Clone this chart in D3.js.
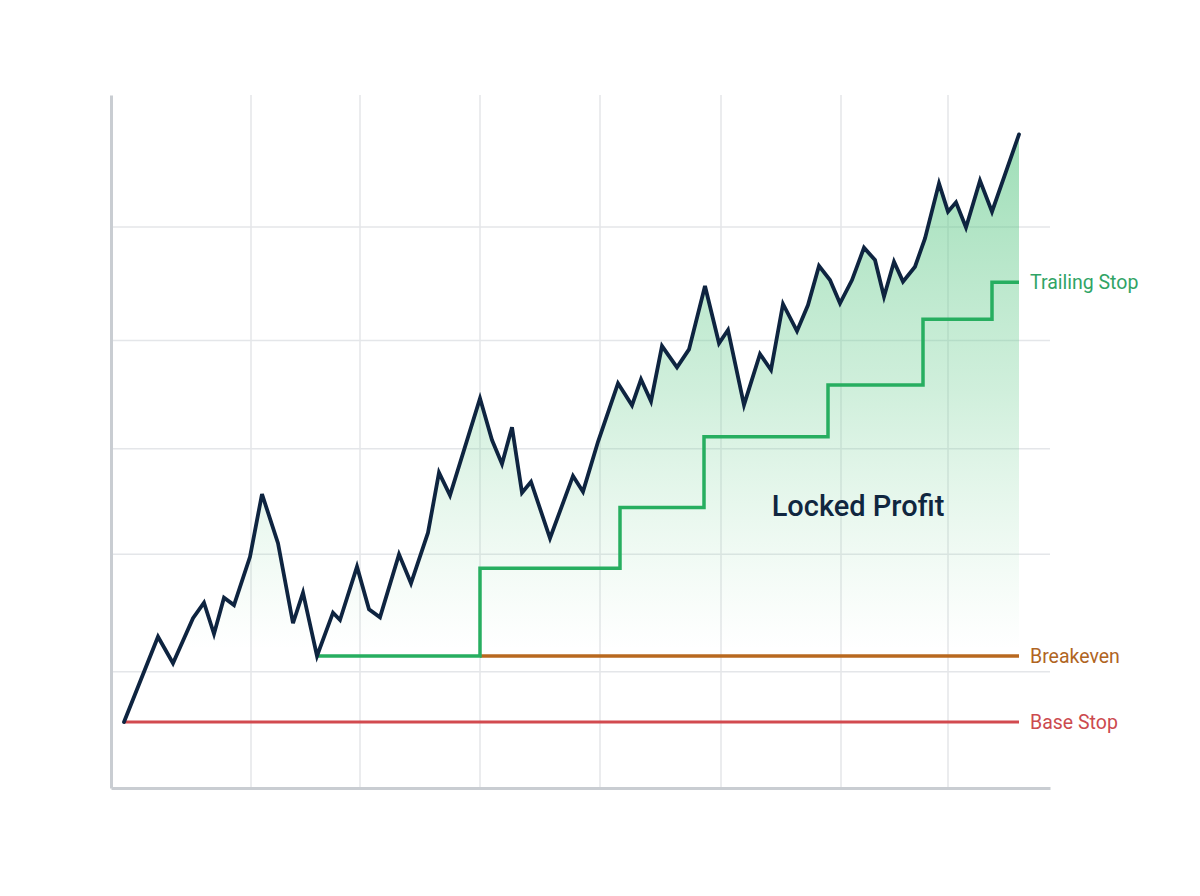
<!DOCTYPE html>
<html>
<head>
<meta charset="utf-8">
<script src="https://cdn.jsdelivr.net/npm/d3@7"></script>
<style>
  html, body { margin: 0; padding: 0; background: #ffffff; }
  svg { display: block; font-family: Roboto, "Noto Sans", sans-serif; }
</style>
</head>
<body>
<svg id="chart" width="1200" height="896"></svg>
<script>
// ---- Data ----
const priceT = [1.3, 4.7, 6.2, 8.2, 9.3, 10.3, 11.3, 12.3, 13.9, 15.1, 16.7, 18.2, 19.2, 20.6,
  22.2, 22.9, 24.6, 25.8, 26.9, 28.8, 30.0, 31.7, 32.8, 33.9, 36.9, 38.1, 39.1, 40.1, 41.1, 42.0,
  43.9, 46.2, 47.2, 48.7, 50.7, 52.1, 53.0, 54.0, 55.1, 56.6, 57.8, 59.4, 60.8, 61.7, 63.3, 64.9,
  66.0, 67.2, 68.6, 69.7, 70.8, 71.9, 72.9, 74.1, 75.3, 76.4, 77.3, 78.3, 79.2, 80.4, 81.4, 82.8,
  83.7, 84.5, 85.5, 86.9, 88.1, 90.8];
const priceV = [95.0, 101.46, 99.45, 102.86, 104.04, 101.67, 104.42, 103.86, 107.52, 112.27, 108.54, 102.48, 104.80, 100.0,
  103.28, 102.73, 106.77, 103.54, 102.93, 107.70, 105.51, 109.34, 113.89, 112.17, 119.52, 116.36, 114.55, 117.33, 112.37, 113.20,
  108.92, 113.64, 112.45, 116.23, 120.66, 118.99, 120.96, 119.30, 123.48, 121.87, 123.23, 128.03, 123.69, 124.70, 119.02, 122.88,
  121.67, 126.67, 124.62, 126.59, 129.55, 128.48, 126.72, 128.48, 130.93, 130.0, 127.22, 129.87, 128.36, 129.49, 131.64, 135.81,
  133.66, 134.37, 132.46, 136.01, 133.66, 139.52];

const trailT = [20.6, 36.9, 50.9, 59.3, 71.7, 81.2, 88.1, 90.8];
const trailV = [100.0, 106.64, 111.25, 116.61, 120.53, 125.51, 128.31, 128.31];

const breakevenT = [36.9, 90.8];
const breakevenV = [100.0, 100.0];
const baseStopT = [1.3, 90.8];
const baseStopV = [95.0, 95.0];

const gridX = [14.0, 24.9, 36.9, 48.9, 61.0, 73.0, 83.7];
const gridY = [132.5, 123.9, 115.7, 107.7, 98.8];

const labels = ["Trailing Stop", "Breakeven", "Base Stop"];
const labelV = [128.31, 100.0, 95.0];
const annotation = "Locked Profit";

// ---- Layout ----
const svg = d3.select("#chart");
const x = d3.scaleLinear().domain([0, 93.9]).range([111, 1050]);
const y = d3.scaleLinear().domain([90, 142.5]).range([788, 95]);

const price = priceT.map((t, i) => ({ t, v: priceV[i] }));
const trail = trailT.map((t, i) => ({ t, v: trailV[i] }));
const breakeven = breakevenT.map((t, i) => ({ t, v: breakevenV[i] }));
const baseStop = baseStopT.map((t, i) => ({ t, v: baseStopV[i] }));

// gradient
const defs = svg.append("defs");
const grad = defs.append("linearGradient")
  .attr("id", "fillGrad")
  .attr("gradientUnits", "userSpaceOnUse")
  .attr("x1", 0).attr("x2", 0)
  .attr("y1", y(139.5)).attr("y2", y(100.5));
grad.append("stop").attr("offset", 0).attr("stop-color", "#58c683").attr("stop-opacity", 0.58);
grad.append("stop").attr("offset", 0.5).attr("stop-color", "#6ccd91").attr("stop-opacity", 0.32);
grad.append("stop").attr("offset", 1).attr("stop-color", "#8fdaa9").attr("stop-opacity", 0);

// grid
const grid = svg.append("g");
grid.selectAll("line.gy").data(gridY).join("line")
  .attr("x1", x.range()[0]).attr("x2", x.range()[1])
  .attr("y1", d => y(d)).attr("y2", d => y(d))
  .attr("stroke", "#e4e6e9").attr("stroke-width", 1.5);
grid.selectAll("line.gx").data(gridX).join("line")
  .attr("y1", y.range()[1]).attr("y2", y.range()[0])
  .attr("x1", d => x(d)).attr("x2", d => x(d))
  .attr("stroke", "#e4e6e9").attr("stroke-width", 1.5);

// area fill
const area = d3.area()
  .x(d => x(d.t))
  .y0(y(95))
  .y1(d => y(d.v));
svg.append("path").datum(price)
  .attr("d", area)
  .attr("fill", "url(#fillGrad)");

// axes
const yAxis = d3.axisLeft(y).tickValues([]).tickSizeOuter(0);
const xAxis = d3.axisBottom(x).tickValues([]).tickSizeOuter(0);
const gy = svg.append("g").attr("transform", `translate(${x.range()[0]},0)`).call(yAxis);
const gx = svg.append("g").attr("transform", `translate(0,${y.range()[0]})`).call(xAxis);
[gy, gx].forEach(g => g.select(".domain").attr("stroke", "#c9cdd2").attr("stroke-width", 3));

// lines
const line = d3.line().x(d => x(d.t)).y(d => y(d.v));
svg.append("path").datum(baseStop).attr("d", line)
  .attr("fill", "none").attr("stroke", "#d24a4f").attr("stroke-width", 3);
svg.append("path").datum(breakeven).attr("d", line)
  .attr("fill", "none").attr("stroke", "#b8681f").attr("stroke-width", 3.5);
svg.append("path").datum(trail).attr("d", line.curve(d3.curveStepAfter))
  .attr("fill", "none").attr("stroke", "#27ae60").attr("stroke-width", 3.5)
  .attr("stroke-linejoin", "miter");
svg.append("path").datum(price).attr("d", d3.line().x(d => x(d.t)).y(d => y(d.v)))
  .attr("fill", "none").attr("stroke", "#0e2440").attr("stroke-width", 3.8)
  .attr("stroke-linejoin", "miter").attr("stroke-linecap", "round");

// labels
const labelColors = ["#30a465", "#b0651f", "#cc4a4e"];
svg.selectAll("text.lbl").data(labels).join("text")
  .attr("class", "lbl")
  .attr("x", x(91.9))
  .attr("y", (d, i) => y(labelV[i]))
  .attr("dy", "0.35em")
  .attr("font-size", 19.5)
  .attr("fill", (d, i) => labelColors[i])
  .text(d => d);

svg.append("text")
  .attr("x", x(74.7))
  .attr("y", y(111.4))
  .attr("text-anchor", "middle")
  .attr("dy", "0.35em")
  .attr("font-size", 29)
  .attr("font-weight", 500)
  .attr("fill", "#10263f")
  .text(annotation);
</script>
</body>
</html>
